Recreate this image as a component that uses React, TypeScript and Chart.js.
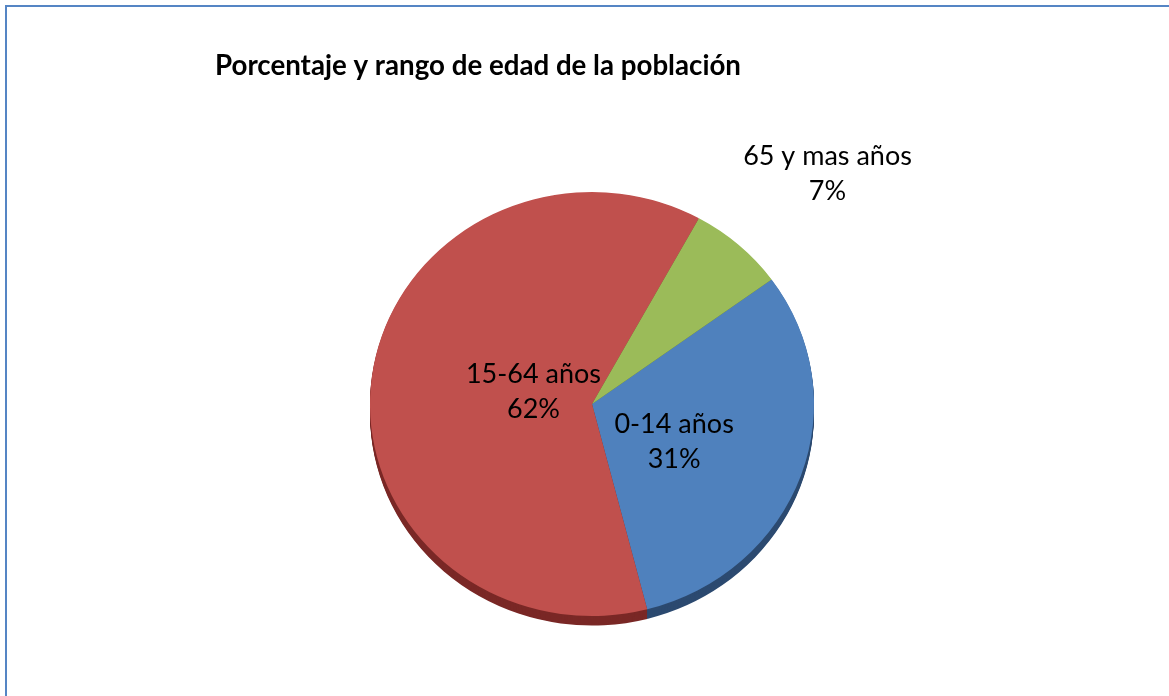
import React, { useEffect, useRef } from "react";
import { Chart, registerables } from "chart.js";

Chart.register(...registerables);

const TITLE = "Porcentaje y rango de edad de la población";
const categories = ["0-14 años", "15-64 años", "65 y mas años"];
const percentages = [31, 62, 7];
const sliceColors = ["#4f81bd", "#c0504d", "#9bbb59"];
const rimColors = ["#2c4a70", "#7a2826", "#5d742c"];
// label placement relative to slice (radius factor, angle shift in rad)
const labelRadius = [0.41, 0.27, 1.52];
const labelAngleShift = [0.1, 0.09, 0.05];
const SCALE_Y = 0.955;

const FONT = "Lato, 'Open Sans', sans-serif";

export default function App() {
  const ref = useRef<HTMLCanvasElement | null>(null);

  useEffect(() => {
    if (!ref.current) return;
    const squash = (chart: any) => {
      const meta = chart.getDatasetMeta(0);
      const a = meta.data[0];
      const ctx = chart.ctx;
      ctx.translate(a.x, a.y);
      ctx.scale(1, SCALE_Y);
      ctx.translate(-a.x, -a.y);
    };
    const rimPlugin = {
      id: "rim",
      beforeDatasetsDraw(chart: any) {
        const ctx = chart.ctx;
        const meta = chart.getDatasetMeta(0);
        const depth = 10;
        ctx.save();
        squash(chart);
        meta.data.forEach((arc: any, i: number) => {
          const { x, y, startAngle, endAngle, outerRadius } = arc.getProps(
            ["x", "y", "startAngle", "endAngle", "outerRadius"],
            true
          );
          ctx.fillStyle = rimColors[i];
          for (let d = depth; d >= 1; d--) {
            ctx.beginPath();
            ctx.moveTo(x, y + d);
            ctx.arc(x, y + d, outerRadius, startAngle, endAngle);
            ctx.closePath();
            ctx.fill();
          }
        });
      },
      afterDatasetsDraw(chart: any) {
        chart.ctx.restore();
      },
    };
    const textPlugin = {
      id: "texts",
      afterDraw(chart: any) {
        const ctx = chart.ctx;
        ctx.save();
        ctx.fillStyle = "#000";
        ctx.textBaseline = "middle";
        ctx.textAlign = "left";
        ctx.font = `bold 27.7px ${FONT}`;
        ctx.fillText(TITLE, 215, 66);
        const meta = chart.getDatasetMeta(0);
        ctx.font = `27px ${FONT}`;
        ctx.textAlign = "center";
        meta.data.forEach((arc: any, i: number) => {
          const { x, y, startAngle, endAngle, outerRadius } = arc.getProps(
            ["x", "y", "startAngle", "endAngle", "outerRadius"],
            true
          );
          const mid = (startAngle + endAngle) / 2 + labelAngleShift[i];
          const r = outerRadius * labelRadius[i];
          const cx = x + Math.cos(mid) * r;
          const cy = y + Math.sin(mid) * r * SCALE_Y;
          ctx.fillText(categories[i], cx, cy - 17);
          ctx.fillText(percentages[i] + "%", cx, cy + 18);
        });
        ctx.restore();
      },
    };
    const chart = new Chart(ref.current, {
      type: "pie",
      data: {
        labels: categories,
        datasets: [
          {
            data: percentages,
            backgroundColor: sliceColors,
            borderWidth: 0,
          },
        ],
      },
      options: {
        responsive: false,
        animation: false,
        rotation: 54,
        layout: { padding: { left: 370, right: 355, top: 182, bottom: 70 } },
        plugins: {
          legend: { display: false },
          tooltip: { enabled: false },
        },
      },
      plugins: [rimPlugin, textPlugin],
    });
    return () => chart.destroy();
  }, []);

  return (
    <div style={{ position: "fixed", left: 0, top: 0, width: 1169, height: 696, background: "#fff" }}>
      <canvas ref={ref} width={1169} height={696} style={{ position: "absolute", left: 0, top: 0 }} />
      <div
        style={{
          position: "absolute",
          left: 5,
          top: 5,
          width: 1164,
          height: 691,
          borderTop: "2px solid #5585c4",
          borderLeft: "2px solid #5585c4",
          boxSizing: "border-box",
          pointerEvents: "none",
        }}
      />
    </div>
  );
}
